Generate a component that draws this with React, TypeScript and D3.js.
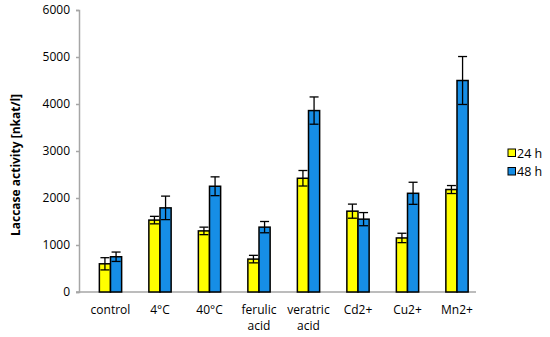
import React, { useEffect, useRef } from "react";
import * as d3 from "d3";

const categories = ["control", "4°C", "40°C", "ferulic acid", "veratric acid", "Cd2+", "Cu2+", "Mn2+"];
const seriesNames = ["24 h", "48 h"];
const values24 = [600, 1530, 1300, 700, 2420, 1720, 1150, 2180];
const errors24 = [130, 80, 80, 80, 165, 150, 100, 85];
const values48 = [750, 1790, 2250, 1380, 3860, 1550, 2100, 4500];
const errors48 = [100, 250, 200, 120, 290, 140, 235, 510];
const yTicks = [0, 1000, 2000, 3000, 4000, 5000, 6000];
const colors = ["#ffff00", "#168ee6"];

const App = () => {
  const svgRef = useRef<SVGSVGElement>(null);

  useEffect(() => {
    const svg = d3.select(svgRef.current);
    svg.selectAll("*").remove();
    const font = "'Open Sans', 'Liberation Sans', sans-serif";

    const x = d3.scaleBand().domain(categories).range([85.75, 481.75]).paddingInner(0.55).paddingOuter(0.275);
    const xs = d3.scaleBand().domain(seriesNames).range([0, x.bandwidth()]);
    const y = d3.scaleLinear().domain([0, 6000]).range([292, 10]);

    // axes
    const gy = svg.append("g").attr("transform", "translate(79,0)")
      .call(d3.axisLeft(y).tickValues(yTicks).tickSize(3).tickPadding(6).tickFormat(d3.format("d")));
    gy.select(".domain").attr("stroke", "#a6a6a6").attr("stroke-width", 1.5);
    gy.selectAll(".tick line").attr("stroke", "#a6a6a6").attr("stroke-width", 1.5);
    gy.selectAll(".tick text").attr("font-family", font).attr("font-size", 12).attr("fill", "#000");

    svg.append("line").attr("x1", 76).attr("x2", 476).attr("y1", y(0)).attr("y2", y(0))
      .attr("stroke", "#a6a6a6").attr("stroke-width", 1.5);

    const series = [
      { name: seriesNames[0], vals: values24, errs: errors24, color: colors[0] },
      { name: seriesNames[1], vals: values48, errs: errors48, color: colors[1] },
    ];

    series.forEach((s) => {
      const g = svg.append("g");
      g.selectAll("rect").data(categories).enter().append("rect")
        .attr("x", (d) => (x(d) ?? 0) + (xs(s.name) ?? 0))
        .attr("y", (d, i) => y(s.vals[i]))
        .attr("width", xs.bandwidth())
        .attr("height", (d, i) => y(0) - y(s.vals[i]))
        .attr("fill", s.color).attr("stroke", "#000").attr("stroke-width", 1.5);

      const cx = (d: string) => (x(d) ?? 0) + (xs(s.name) ?? 0) + xs.bandwidth() / 2;
      g.selectAll("line.err").data(categories).enter().append("line").attr("class", "err")
        .attr("x1", cx).attr("x2", cx)
        .attr("y1", (d, i) => y(s.vals[i] - s.errs[i]))
        .attr("y2", (d, i) => y(s.vals[i] + s.errs[i]))
        .attr("stroke", "#000").attr("stroke-width", 1.3);
      [1, -1].forEach((sign) => {
        g.selectAll(`line.cap${sign}`).data(categories).enter().append("line").attr("class", `cap${sign}`)
          .attr("x1", (d) => cx(d) - 4.5).attr("x2", (d) => cx(d) + 4.5)
          .attr("y1", (d, i) => y(s.vals[i] + sign * s.errs[i]))
          .attr("y2", (d, i) => y(s.vals[i] + sign * s.errs[i]))
          .attr("stroke", "#000").attr("stroke-width", 1.3);
      });
    });

    // x labels
    categories.forEach((c) => {
      const words = c.split(" ");
      const t = svg.append("text").attr("text-anchor", "middle")
        .attr("font-family", font).attr("font-size", 12).attr("fill", "#000");
      words.forEach((w, i) => {
        t.append("tspan").attr("x", (x(c) ?? 0) + x.bandwidth() / 2).attr("y", 314 + i * 16).text(w);
      });
    });

    // y label
    svg.append("text").attr("transform", "rotate(-90)")
      .attr("x", -y(3000) - 14).attr("y", 20)
      .attr("text-anchor", "middle").attr("font-family", font).attr("font-size", 12)
      .attr("font-weight", "bold").text("Laccase activity [nkat/l]");

    // legend
    series.forEach((s, i) => {
      const ly = 153 + i * 18.5;
      svg.append("rect").attr("x", 508).attr("y", ly - 4).attr("width", 7.5).attr("height", 7.5)
        .attr("fill", s.color).attr("stroke", "#000").attr("stroke-width", 1);
      svg.append("text").attr("x", 517).attr("y", ly + 4.5)
        .attr("font-family", font).attr("font-size", 12.5).text(s.name);
    });
  }, []);

  return (
    <div style={{ position: "absolute", left: 0, top: 0, background: "#fff" }}>
      <svg ref={svgRef} width={550} height={337}></svg>
    </div>
  );
};

export default App;
